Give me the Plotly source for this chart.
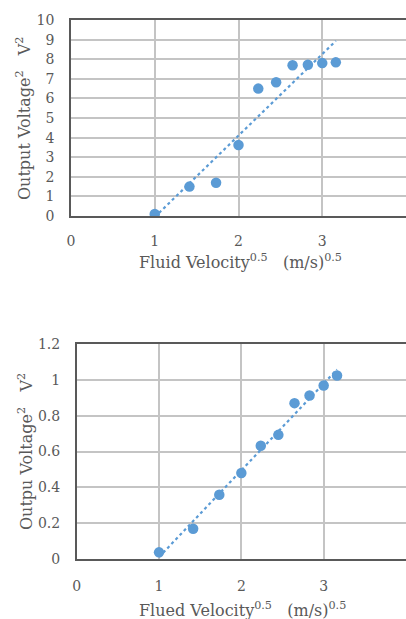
import numpy as np
import plotly.graph_objects as go

# Data
flow_velocity = [1, 2, 3, 4, 5, 6, 7, 8, 9, 10]
sqrt_velocity = [v ** 0.5 for v in flow_velocity]
voltage_sq_top = [0.1, 1.5, 1.7, 3.62, 6.5, 6.82, 7.69, 7.72, 7.8, 7.84]
voltage_sq_bottom = [0.037, 0.169, 0.359, 0.480, 0.632, 0.693, 0.870, 0.913, 0.968, 1.024]

x_ticks = [0, 1, 2, 3, 4]
y_ticks_top = list(range(0, 11))
y_ticks_bottom = [0, 0.2, 0.4, 0.6, 0.8, 1.0, 1.2]
y_ticktext_bottom = ["0", "0.2", "0.4", "0.6", "0.8", "1", "1.2"]

SP = "\u00a0\u00a0\u00a0"
title_x_top = "Fluid Velocity<sup>0.5</sup>" + SP + "(m/s)<sup>0.5</sup>"
title_x_bottom = "Flued Velocity<sup>0.5</sup>" + SP + "(m/s)<sup>0.5</sup>"
title_y_top = "Output Voltage<sup>2</sup>" + SP + "V<sup>2</sup>"
title_y_bottom = "Outpu Voltage<sup>2</sup>" + SP + "V<sup>2</sup>"

BLUE = "#5b9bd5"
GRID = "#c4c4c4"
AXIS = "#595959"
FONT = "DejaVu Serif, Liberation Serif, serif"
W, H = 406, 619

fig = go.Figure()


def add_series(xs, ys, xa, ya):
    fig.add_trace(go.Scatter(x=xs, y=ys, mode="markers",
                             marker=dict(color=BLUE, size=10.5),
                             xaxis=xa, yaxis=ya, showlegend=False))
    k, b = np.polyfit(xs, ys, 1)
    lx = [min(xs), max(xs)]
    fig.add_trace(go.Scatter(x=lx, y=[k * v + b for v in lx], mode="lines",
                             line=dict(color=BLUE, width=2.2, dash="dot"),
                             xaxis=xa, yaxis=ya, showlegend=False))


add_series(sqrt_velocity, voltage_sq_top, "x", "y")
add_series(sqrt_velocity, voltage_sq_bottom, "x2", "y2")

tickfont = dict(family=FONT, size=14, color=AXIS)
titlefont = dict(family=FONT, size=16, color=AXIS)

common_x = dict(range=[0, 4], tickvals=x_ticks, showgrid=True, gridcolor=GRID,
                gridwidth=2, showline=True, linecolor=AXIS, linewidth=1.5,
                mirror=True, zeroline=False, tickfont=tickfont, ticks="",
                automargin=False)
common_y = dict(showgrid=True, gridcolor=GRID, gridwidth=2, showline=True,
                linecolor=AXIS, linewidth=1.5, zeroline=False,
                tickfont=tickfont, ticks="", ticklabelstandoff=12,
                automargin=False)

fig.update_layout(
    width=W, height=H,
    margin=dict(l=0, r=0, t=0, b=0, autoexpand=False),
    plot_bgcolor="white", paper_bgcolor="white",
    hovermode=False,
    xaxis=dict(common_x, domain=[71 / W, 1], anchor="y", ticklabelstandoff=11),
    yaxis=dict(common_y, domain=[1 - 216 / H, 1 - 20 / H], anchor="x",
               range=[0, 10], tickvals=y_ticks_top),
    xaxis2=dict(common_x, domain=[76.7 / W, 1], anchor="y2", ticklabelstandoff=13),
    yaxis2=dict(common_y, domain=[1 - 559 / H, 1 - 344 / H], anchor="x2",
                range=[0, 1.2], tickvals=y_ticks_bottom, ticktext=y_ticktext_bottom),
)

# (text, x px, y px, angle, xanchor, yanchor)
titles = [
    (title_x_top, 240, 274, 0, "center", "bottom"),
    (title_x_bottom, 242, 622, 0, "center", "bottom"),
    (title_y_top, 24, 118, -90, "center", "middle"),
    (title_y_bottom, 25, 452, -90, "center", "middle"),
]
for text, cx, cy, ang, xa, ya in titles:
    fig.add_annotation(text=text, x=cx / W, y=1 - cy / H, xref="paper", yref="paper",
                       xanchor=xa, yanchor=ya, showarrow=False,
                       textangle=ang, font=titlefont)

fig.write_html("out.html", config={"displayModeBar": False},
               post_script="document.body.style.margin='0px';")
